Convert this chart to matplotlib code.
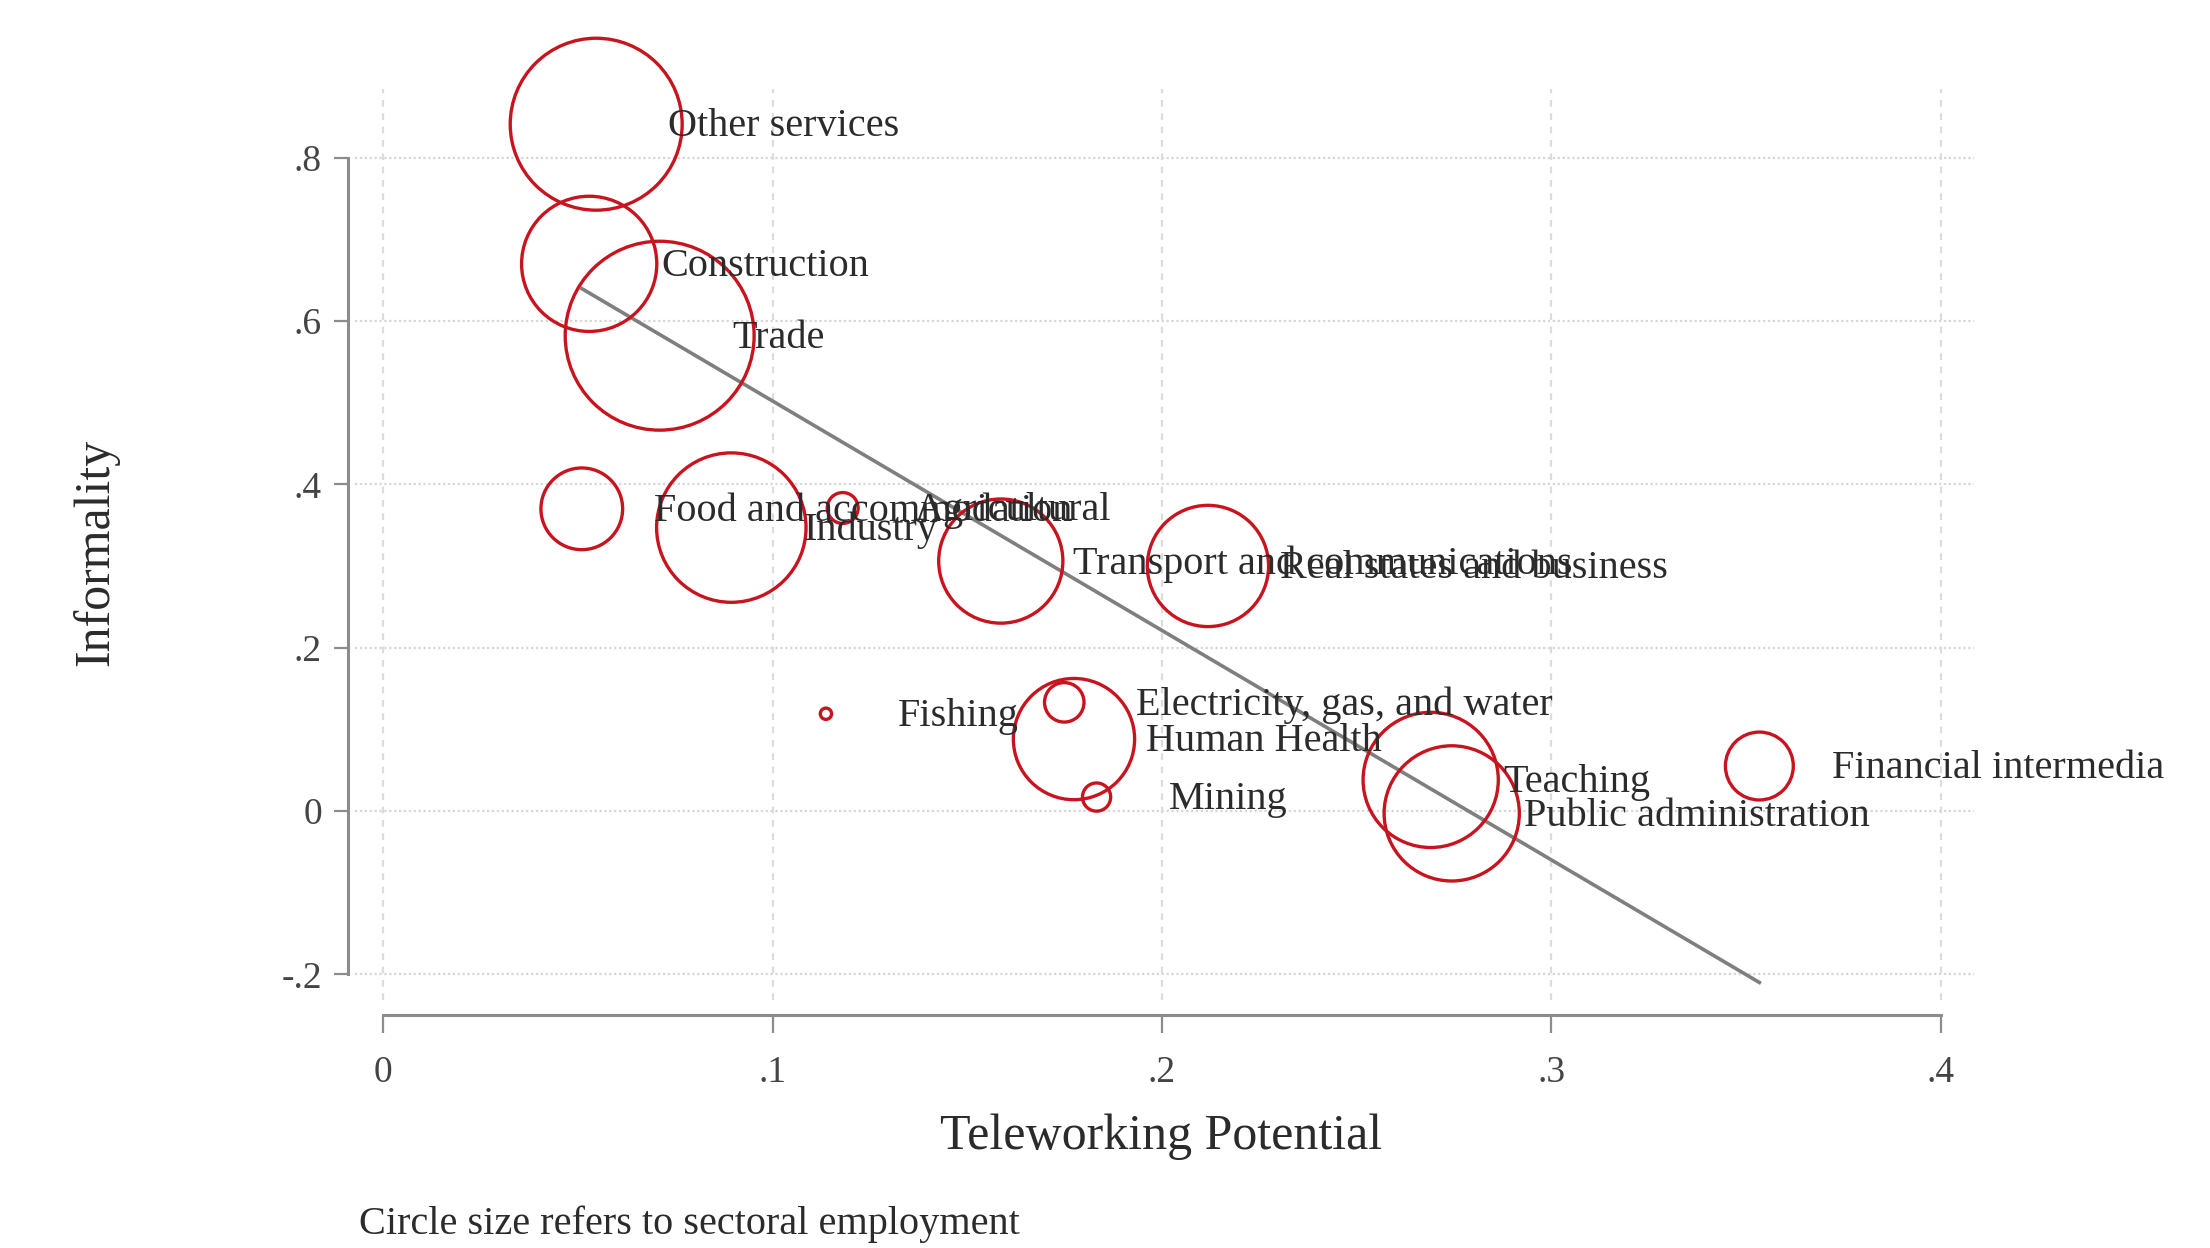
import matplotlib.pyplot as plt
import numpy as np

# sectors, teleworking potential (x), informality (y), employment (circle size)
sectors = ["Other services", "Construction", "Trade", "Food and accommodation",
           "Industry", "Agricultural", "Transport and communications",
           "Real states and business", "Fishing", "Electricity, gas, and water",
           "Human Health", "Mining", "Teaching", "Public administration",
           "Financial intermedia"]
telework = [0.0547, 0.0529, 0.0710, 0.0510, 0.0894, 0.1180, 0.1586,
            0.2118, 0.1137, 0.1749, 0.1774, 0.1832, 0.2690, 0.2744, 0.3534]
informality = [0.841, 0.670, 0.582, 0.370, 0.347, 0.371, 0.306,
               0.300, 0.119, 0.133, 0.088, 0.017, 0.038, -0.003, 0.055]
employment = [37.2, 23.0, 44.9, 8.4, 28.1, 1.2, 19.4,
              18.5, 0.16, 1.96, 18.5, 1.0, 23.0, 23.0, 5.8]

# fitted line
fit_intercept = 0.783
fit_slope = -2.81

xticks = [0, 0.1, 0.2, 0.3, 0.4]
xticklabels = ["0", ".1", ".2", ".3", ".4"]
yticks = [-0.2, 0, 0.2, 0.4, 0.6, 0.8]
yticklabels = ["-.2", "0", ".2", ".4", ".6", ".8"]

plt.rcParams['font.family'] = ['Liberation Serif', 'DejaVu Serif']

fig = plt.figure(figsize=(22.1, 12.48), dpi=100)
ax = fig.add_axes([0.1607, 0.199, 0.7323, 0.730])

x = np.array(telework)
y = np.array(informality)
w = np.array(employment)

# grid lines
for yt in yticks:
    ax.axhline(yt, color='#d6d6d6', lw=1.6, ls=(0, (1, 1.2)), zorder=0)
for xt in xticks:
    ax.axvline(xt, color='#dcdcdc', lw=1.6, ls=(0, (3, 3)), zorder=0)

# bubbles
ax.scatter(x, y, s=412 * w, facecolors='none', edgecolors='#c8141e',
           linewidths=2.4, zorder=3, clip_on=False)

# fitted line
xs = np.array([x.min(), x.max()])
ax.plot(xs, fit_intercept + fit_slope * xs, color='#7f7f7f', lw=2.6, zorder=2)

# labels
for name, xi, yi in zip(sectors, x, y):
    ax.annotate(name, (xi, yi), xytext=(52, -2), textcoords='offset points',
                va='center', ha='left', fontsize=29, color='#2b2b2b',
                zorder=4, annotation_clip=False)

ax.set_xlim(-0.0072, 0.4084)
ax.set_ylim(-0.2311, 0.8846)

for s in ['top', 'right']:
    ax.spines[s].set_visible(False)
ax.spines['left'].set_bounds(-0.2, 0.8)
ax.spines['left'].set_position(('outward', 5))
ax.spines['bottom'].set_bounds(0, 0.4)
ax.spines['bottom'].set_position(('outward', 11))
for s in ['left', 'bottom']:
    ax.spines[s].set_color('#8c8c8c')
    ax.spines[s].set_linewidth(2.2)

ax.set_xticks(xticks)
ax.set_xticklabels(xticklabels)
ax.set_yticks(yticks)
ax.set_yticklabels(yticklabels)
ax.tick_params(axis='y', length=10, width=1.6, color='#8c8c8c', pad=9,
               labelsize=27, labelcolor='#444444')
ax.tick_params(axis='x', length=13, width=1.6, color='#8c8c8c', pad=16,
               labelsize=27, labelcolor='#444444')

fig.text(0.5255, 0.089, "Teleworking Potential", fontsize=36, color='#2b2b2b',
         ha='center', va='center')
fig.text(0.0434, 0.557, "Informality", fontsize=36, color='#2b2b2b',
         ha='center', va='center', rotation=90)
fig.text(0.1626, 0.019, "Circle size refers to sectoral employment",
         fontsize=29, color='#2b2b2b', ha='left', va='center')

fig.savefig("out.png", dpi=100)
